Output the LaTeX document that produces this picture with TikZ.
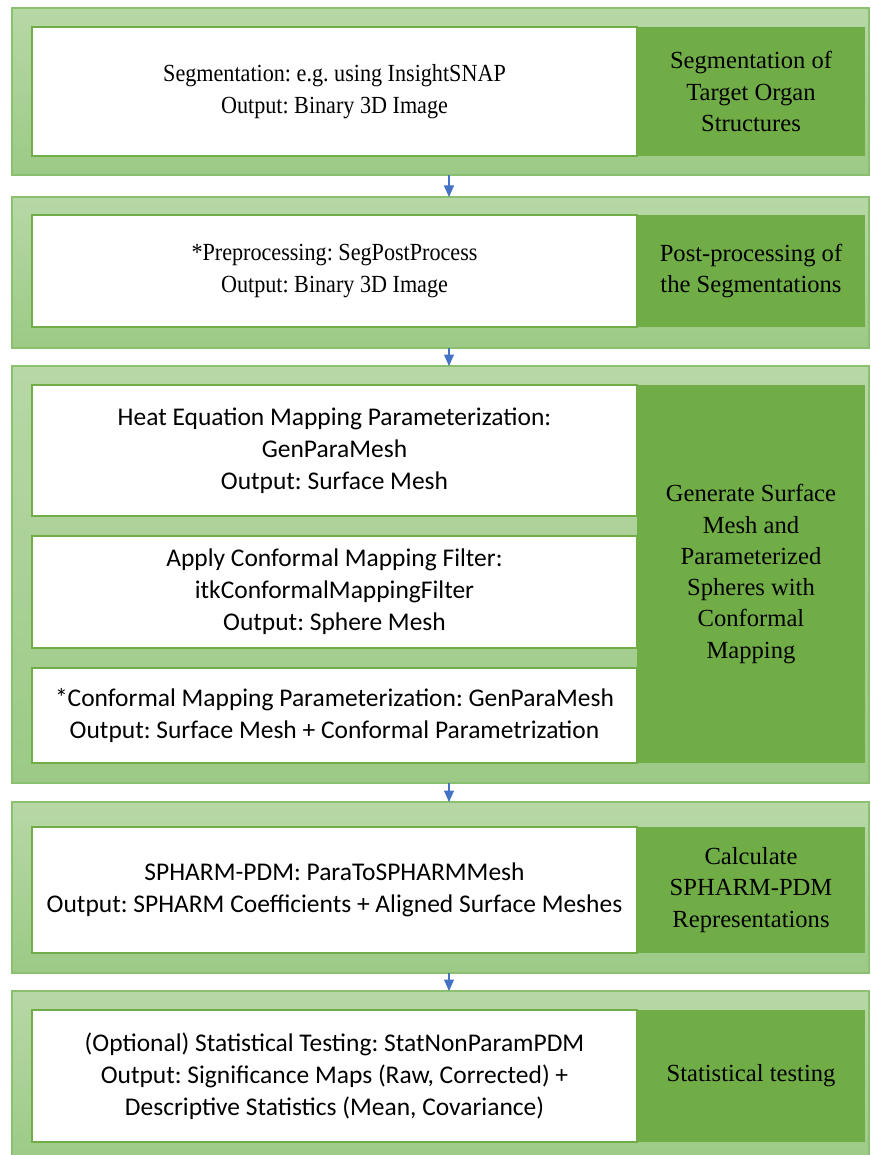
\documentclass[tikz,border=0pt]{standalone}
\usepackage{fontspec}
\setmainfont{Liberation Serif}
\newfontfamily\calibfont{Carlito}
\newfontfamily\narrowserif[FakeStretch=0.9]{Liberation Serif}
\usetikzlibrary{arrows.meta}
\frenchspacing

\definecolor{panelTop}{RGB}{183,216,166}
\definecolor{panelBot}{RGB}{156,202,134}
\definecolor{panelEdge}{RGB}{138,192,112}
\definecolor{stageGreen}{RGB}{112,173,71}
\definecolor{flowBlue}{RGB}{68,114,196}

\begin{document}
\begin{tikzpicture}[
  panel/.style={rectangle, anchor=north west, top color=panelTop, bottom color=panelBot,
                draw=panelEdge, line width=0.8pt, minimum width=17.14cm, outer sep=0pt},
  tool/.style={rectangle, anchor=north west, fill=white, draw=stageGreen, line width=0.8pt,
               minimum width=12.1cm, align=center, outer sep=0pt, inner sep=2pt},
  stage/.style={rectangle, anchor=north west, fill=stageGreen, minimum width=4.56cm,
                align=center, outer sep=0pt, inner sep=2pt,
                font=\fontsize{14}{17.8}\selectfont},
  serif/.style={font=\narrowserif\fontsize{14}{18.5}\selectfont},
  sans/.style={font=\calibfont\fontsize{14.5}{18.3}\selectfont},
  arr/.style={-{Triangle[length=2.3mm,width=2mm]}, draw=flowBlue, line width=0.6pt}
]
\useasboundingbox (0,0) rectangle (17.42,-23.1);

% outer bands
\node[panel, minimum height=3.34cm] (p1) at (0.24,-0.16) {};
\node[panel, minimum height=3.02cm] (p2) at (0.24,-3.94) {};
\node[panel, minimum height=8.34cm] (p3) at (0.24,-7.32) {};
\node[panel, minimum height=3.42cm] (p4) at (0.24,-16.04) {};
\node[panel, minimum height=3.50cm] (p5) at (0.24,-19.82) {};

% step 1
\node[tool, serif, minimum height=2.58cm] (seg) at (0.64,-0.54)
  {Segmentation: e.g. using InsightSNAP\\ Output: Binary 3D Image};
\node[stage, minimum height=2.58cm] (segS) at (12.74,-0.54)
  {Segmentation of\\ Target Organ\\ Structures};

% step 2
\node[tool, serif, minimum height=2.24cm] (post) at (0.64,-4.30)
  {*Preprocessing: SegPostProcess\\ Output: Binary 3D Image};
\node[stage, minimum height=2.24cm] (postS) at (12.74,-4.30)
  {Post-processing of\\ the Segmentations};

% step 3
\node[tool, sans, minimum height=2.62cm] (heat) at (0.64,-7.70)
  {Heat Equation Mapping Parameterization:\\ GenParaMesh\\ Output: Surface Mesh};
\node[tool, sans, minimum height=2.24cm] (conf) at (0.64,-10.72)
  {Apply Conformal Mapping Filter:\\ itkConformalMappingFilter\\ Output: Sphere Mesh};
\node[tool, sans, minimum height=1.90cm] (cpar) at (0.64,-13.36)
  {*Conformal Mapping Parameterization: GenParaMesh\\
   Output: Surface Mesh + Conformal Parametrization};
\node[stage, minimum height=7.56cm] (meshS) at (12.74,-7.70)
  {Generate Surface\\ Mesh and\\ Parameterized\\ Spheres with\\ Conformal\\ Mapping};

% step 4
\node[tool, sans, minimum height=2.52cm] (spharm) at (0.64,-16.54)
  {SPHARM-PDM: ParaToSPHARMMesh\\
   Output: SPHARM Coefficients + Aligned Surface Meshes};
\node[stage, minimum height=2.52cm] (spharmS) at (12.74,-16.54)
  {Calculate\\ SPHARM-PDM\\ Representations};

% step 5
\node[tool, sans, minimum height=2.64cm] (stat) at (0.64,-20.20)
  {(Optional) Statistical Testing: StatNonParamPDM\\
   Output: Significance Maps (Raw, Corrected) +\\
   Descriptive Statistics (Mean, Covariance)};
\node[stage, minimum height=2.64cm] (statS) at (12.74,-20.20)
  {Statistical testing};

% flow
\draw[arr] ([xshift=0.17cm]p1.south) -- ([xshift=0.17cm]p2.north);
\draw[arr] ([xshift=0.17cm]p2.south) -- ([xshift=0.17cm]p3.north);
\draw[arr] ([xshift=0.17cm]p3.south) -- ([xshift=0.17cm]p4.north);
\draw[arr] ([xshift=0.17cm]p4.south) -- ([xshift=0.17cm]p5.north);
\end{tikzpicture}
\end{document}
